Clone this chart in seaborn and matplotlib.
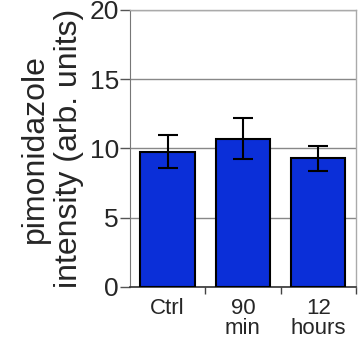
import pandas as pd
import matplotlib
matplotlib.use('Agg')
import matplotlib.pyplot as plt
import seaborn as sns

# valores
grupos = ['Ctrl', '90\nmin', '12\nhours']
medias = [9.75, 10.7, 9.3]
errores = [1.2, 1.5, 0.9]
ticks_y = [0, 5, 10, 15, 20]

df = pd.DataFrame({'grupo': grupos, 'valor': medias})

sns.set_style('white')
plt.rcParams['font.family'] = ['Liberation Sans', 'DejaVu Sans']

fig = plt.figure(figsize=(3.58, 3.40), dpi=100)
ax = fig.add_axes([0.363, 0.156, 0.631, 0.815])

sns.barplot(data=df, x='grupo', y='valor', color='#0b2fd8', saturation=1,
            width=0.72, edgecolor='black', linewidth=1.5, ax=ax, zorder=3)
ax.errorbar(range(len(grupos)), medias, yerr=errores, fmt='none',
            ecolor='black', elinewidth=1.5, capsize=7, capthick=1.5, zorder=4)

ax.set_ylim(0, 20)
ax.set_xlim(-0.5, len(grupos) - 0.5)
ax.set_yticks(ticks_y)
ax.tick_params(axis='y', labelsize=19, length=7, width=1, color='#555555',
               direction='out', left=True, pad=1)
ax.set_xticks(range(len(grupos)))
ax.set_xticklabels(grupos, fontsize=16, linespacing=0.95)
ax.tick_params(axis='x', which='major', length=0, pad=8)
ax.set_xticks([0.5, 1.5, 2.5], minor=True)
ax.tick_params(axis='x', which='minor', length=5, width=1, color='#444444',
               direction='out', bottom=True)

ax.grid(axis='y', color='#888888', linewidth=1, zorder=0)
ax.set_axisbelow(True)
for lado in ['top', 'right']:
    ax.spines[lado].set_color('#aaaaaa')
    ax.spines[lado].set_linewidth(1)
ax.spines['left'].set_color('#777777')
ax.spines['bottom'].set_color('#333333')
ax.spines['bottom'].set_linewidth(1.2)

ax.set_xlabel('')
ax.set_ylabel('pimonidazole\nintensity (arb. units)', fontsize=23,
              linespacing=1.15, labelpad=4)

fig.savefig('out.png', dpi=100)
